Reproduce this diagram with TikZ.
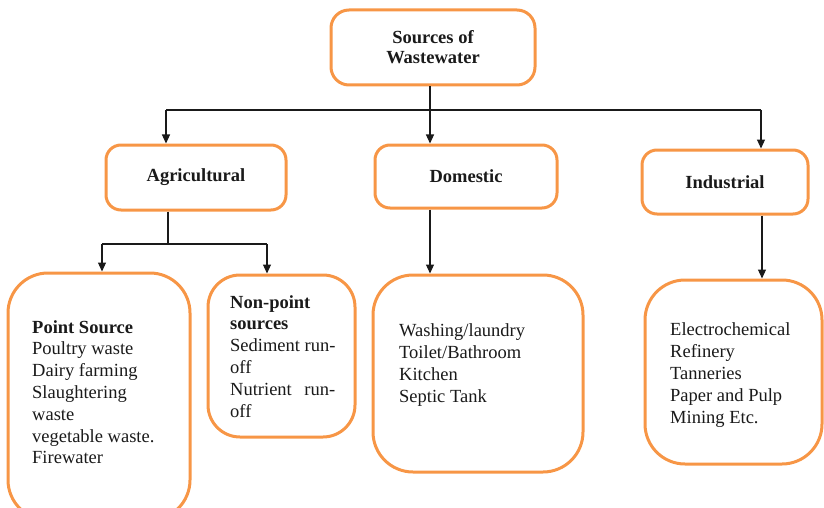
\documentclass[tikz,border=0pt]{standalone}
\usepackage{fontspec}
\setmainfont{Liberation Serif}
\usetikzlibrary{arrows.meta}
\definecolor{boxorange}{HTML}{F79646}
\definecolor{ink}{HTML}{1A1A1A}
\begin{document}
\begin{tikzpicture}[x=1pt,y=-1pt,
  box/.style={draw=boxorange, line width=3pt, fill=white, rounded corners=#1, inner sep=0pt},
  box/.default=15pt,
  head/.style={font=\fontsize{18.5}{20}\selectfont\bfseries, text=ink, align=center},
  listtext/.style={font=\fontsize{18.5}{21.8}\selectfont, text=ink, anchor=base west, inner sep=0pt},
  link/.style={draw=ink, line width=1.1pt},
  arr/.style={link, -{Triangle[width=8pt,length=9pt]}}
]
\useasboundingbox (0,0) rectangle (824,508);

% top level and categories
\node[box=18pt, head, minimum width=204pt, minimum height=75pt] (src) at (433,47.5) {Sources of\\Wastewater};
\node[box, head, minimum width=180pt, minimum height=65pt] (agr) at (196,177.5) {Agricultural};
\node[box, head, minimum width=182pt, minimum height=63pt] (dom) at (466,176.5) {Domestic};
\node[box, head, minimum width=166pt, minimum height=64pt] (ind) at (725,182) {Industrial};

% detail boxes
\node[box=40pt, minimum width=182pt, minimum height=247pt] (pt) at (99,396.5) {};
\node[box=32pt, minimum width=147pt, minimum height=162pt] (np) at (281.5,356) {};
\node[box=40pt, minimum width=210pt, minimum height=197pt] (dl) at (478,373.5) {};
\node[box=40pt, minimum width=177pt, minimum height=184pt] (il) at (733.5,372) {};

\node[listtext] (pttxt) at (32,333) {\begin{tabular}[t]{@{}l@{}}\textbf{Point Source}\\Poultry waste\\Dairy farming\\Slaughtering\\waste\\vegetable waste.\\Firewater\end{tabular}};
\node[listtext] (nptxt) at (230,308) {\begin{tabular}[t]{@{}l@{}}\textbf{Non-point}\\\textbf{sources}\\Sediment run-\\off\\\makebox[105pt][s]{Nutrient run-}\\off\end{tabular}};
\node[listtext, font=\fontsize{18.5}{22}\selectfont] (dltxt) at (399,336) {\begin{tabular}[t]{@{}l@{}}Washing/laundry\\Toilet/Bathroom\\Kitchen\\Septic Tank\end{tabular}};
\node[listtext, font=\fontsize{18.5}{22}\selectfont] (iltxt) at (670,335) {\begin{tabular}[t]{@{}l@{}}Electrochemical\\Refinery\\Tanneries\\Paper and Pulp\\Mining Etc.\end{tabular}};

% connectors from the top box
\coordinate (hub) at (430,110);
\coordinate (ha) at (166,110);
\coordinate (hi) at (761,110);
\draw[link] (src.south -| hub) -- (hub);
\draw[link] (ha) -- (hi);
\draw[arr] (ha) -- (ha |- agr.north);
\draw[arr] (hub) -- (hub |- dom.north);
\draw[arr] (hi) -- (hi |- ind.north);

% connectors from the agricultural box
\coordinate (asplit) at (168,244);
\coordinate (al) at (102,244);
\coordinate (ar) at (267,244);
\draw[link] (agr.south -| asplit) -- (asplit);
\draw[link] (al) -- (ar);
\draw[arr] (al) -- (al |- pt.north);
\draw[arr] (ar) -- (ar |- np.north);

% single branches
\coordinate (dx) at (430,0);
\coordinate (ix) at (762,0);
\draw[arr] (dom.south -| dx) -- (dl.north -| dx);
\draw[arr] (ind.south -| ix) -- (il.north -| ix);
\end{tikzpicture}
\end{document}
